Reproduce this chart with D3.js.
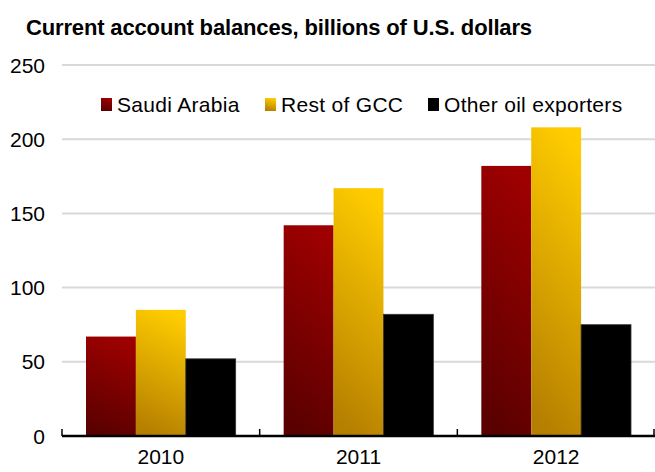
<!DOCTYPE html>
<html>
<head>
<meta charset="utf-8">
<script src="https://cdn.jsdelivr.net/npm/d3@7"></script>
<style>
  body { margin: 0; background: #fff; }
  text { font-family: "Liberation Sans", Arial, sans-serif; fill: #000; }
</style>
</head>
<body>
<svg id="chart" width="655" height="472"></svg>
<script>
const years = ["2010", "2011", "2012"];
const seriesNames = ["Saudi Arabia", "Rest of GCC", "Other oil exporters"];
const saudi = [67, 142, 182];
const restGcc = [85, 167, 208];
const otherOil = [52, 82, 75];
const yTicks = [0, 50, 100, 150, 200, 250];

const values = [saudi, restGcc, otherOil];
const width = 655, height = 472;
const margin = { top: 65, right: 0, bottom: 36, left: 62 };

const svg = d3.select("#chart");
const defs = svg.append("defs");

// gradients: lighter at the top, darker toward bottom-left
function grad(id, top, bottom) {
    const g = defs.append("linearGradient").attr("id", id)
        .attr("x1", "0.6").attr("y1", "0").attr("x2", "0.4").attr("y2", "1");
    g.append("stop").attr("offset", "0").attr("stop-color", top);
    g.append("stop").attr("offset", "1").attr("stop-color", bottom);
}
grad("gSaudi", "#9e0000", "#5a0000");
grad("gGcc", "#ffcc00", "#b57f00");
const fills = ["url(#gSaudi)", "url(#gGcc)", "#000"];

const x = d3.scaleBand().domain(years).range([margin.left, width - margin.right]);
const xs = d3.scaleBand().domain(seriesNames).range([24, x.bandwidth() - 24]);
const y = d3.scaleLinear().domain([0, 250]).range([height - margin.bottom, margin.top]);

// gridlines
svg.append("g").selectAll("line").data(yTicks.slice(1)).join("line")
    .attr("x1", margin.left).attr("x2", width)
    .attr("y1", d => y(d)).attr("y2", d => y(d))
    .attr("stroke", "#d9d9d9").attr("stroke-width", 2);

// y labels
svg.append("g").selectAll("text").data(yTicks).join("text")
    .attr("x", 45).attr("y", d => y(d)).attr("dy", "0.36em")
    .attr("text-anchor", "end").attr("font-size", 21)
    .text(d => d);

// bars
const groups = svg.append("g").selectAll("g").data(years).join("g")
    .attr("transform", d => `translate(${x(d)},0)`);
groups.selectAll("rect")
    .data((d, i) => seriesNames.map((s, j) => ({ s, j, v: values[j][i] })))
    .join("rect")
    .attr("x", d => xs(d.s))
    .attr("width", xs.bandwidth())
    .attr("y", d => y(d.v))
    .attr("height", d => y(0) - y(d.v))
    .attr("fill", d => fills[d.j])
    .attr("stroke", d => d.j === 2 ? "#333" : "none")
    .attr("stroke-width", 0.8);

// x axis
const xAxis = svg.append("g").attr("transform", `translate(0,${y(0)})`);
xAxis.append("line").attr("x1", margin.left).attr("x2", width)
    .attr("stroke", "#000").attr("stroke-width", 2.5);
const boundaries = years.map(d => x(d)).concat([width - 1]);
xAxis.selectAll("line.tk").data(boundaries).join("line").attr("class", "tk")
    .attr("x1", d => d).attr("x2", d => d).attr("y1", 0).attr("y2", -7)
    .attr("stroke", "#000").attr("stroke-width", 1.5);
xAxis.selectAll("text").data(years).join("text")
    .attr("x", d => x(d) + x.bandwidth() / 2).attr("y", 28)
    .attr("text-anchor", "middle").attr("font-size", 21)
    .text(d => d);

// legend
const legendX = [101, 265, 428];
const leg = svg.append("g").selectAll("g").data(seriesNames).join("g")
    .attr("transform", (d, i) => `translate(${legendX[i]},98)`);
leg.append("rect").attr("width", 11).attr("height", 13)
    .attr("fill", (d, i) => fills[i]);
leg.append("text").attr("x", 16).attr("y", 14).attr("font-size", 21)
    .attr("letter-spacing", 0.3)
    .text(d => d);

// title
svg.append("text").attr("x", 26).attr("y", 35)
    .attr("font-size", 22).attr("font-weight", "bold")
    .attr("letter-spacing", -0.15)
    .text("Current account balances, billions of U.S. dollars");
</script>
</body>
</html>
